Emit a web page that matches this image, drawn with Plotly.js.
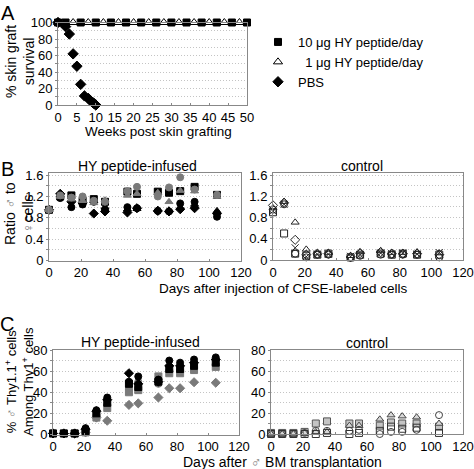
<!DOCTYPE html>
<html><head><meta charset="utf-8">
<script src="https://cdn.plot.ly/plotly-3.0.1.min.js"></script>
<style>html,body{margin:0;padding:0;background:#fff}#chart{width:474px;height:469px}</style>
</head><body><div id="chart"></div>
<script>
// ---------- Panel A: skin graft survival ----------
const weeks10ug = [0,2,6,10,14,18,22,26,30,34,38,42,46,50];
const surv10ug  = [100,100,100,100,100,100,100,100,100,100,100,100,100,100];
const weeks1ug  = [0,4,8,12,16,20,24,28,32,36,40,44,48];
const surv1ug   = [100,100,100,100,100,100,100,100,100,100,100,100,100];
const weeksPBS  = [0,2,3,4,5,6,7,8,8.6,9.2,9.6,10];
const survPBS   = [100,95,86,62,47,25,11,8,5,3,1.5,0];
const legendA   = ["10 \u03bcg HY peptide/day", "\u20071 \u03bcg HY peptide/day", "PBS"];

// ---------- Panel B: ratio male to female cells ----------
const daysB = [0,7,14,21,28,35,49,55,68,75,82,91,105];
// HY peptide-infused
const bHyBlackSq   = [0.95,1.20,1.22,1.12,1.15,1.10,1.29,1.25,1.29,1.27,1.30,1.38,1.23];
const bHyBlackCirc = [0.95,1.17,1.00,1.05,1.10,0.95,1.00,0.98,0.93,0.92,1.07,1.10,0.82];
const bHyBlackDia  = [0.95,1.25,1.10,1.08,0.88,0.92,0.90,0.98,0.93,0.92,0.96,0.98,0.88];
const bHyBlackTri  = [0.95,1.22,1.15,1.10,1.12,1.00,0.96,0.97,0.95,0.94,1.00,1.05,0.93];
const bHyGrayCirc  = [0.95,1.22,1.18,1.20,1.12,1.10,1.30,1.38,1.20,1.37,1.56,1.33,1.23];
const bHyGrayTri   = [0.95,1.20,1.15,1.12,1.08,1.13,1.22,1.25,1.27,1.10,1.31,1.30,1.20];
// control
const bCtlSq   = [0.90,0.50,0.12,0.08,0.10,0.12,0.05,0.10,0.12,0.10,0.12,0.10,0.10];
const bCtlCirc = [0.95,1.05,0.12,0.05,0.10,0.10,0.04,0.08,0.10,0.10,0.10,0.10,0.05];
const bCtlTri  = [0.98,1.10,0.71,0.20,0.13,0.14,0.08,0.15,0.17,0.14,0.14,0.15,0.13];
const bCtlDia  = [1.03,1.08,0.38,0.10,0.12,0.12,0.06,0.13,0.15,0.12,0.12,0.12,0.10];
const bCtlX    = [0.92,1.05,0.23,0.06,0.11,0.11,0.07,0.10,0.13,0.12,0.13,0.11,0.14];

// ---------- Panel C: % male Thy1.1+ among Thy1+ ----------
const daysC = [0,7,14,21,28,35,49,55,68,75,82,91,105];
// HY peptide-infused
const cHyBlackCirc = [1,1,1,6,23,35,50,55,52,70,68,71,73];
const cHyBlackDia  = [1,1,1,5,22,33,58,48,50,65,65,68,71];
const cHyBlackSq   = [1,1,1,3,20,30,48,45,50,62,62,65,68];
const cHyGrayCirc  = [1,1,1,3,17,28,44,50,48,60,60,63,66];
const cHyGraySq    = [1,1,1,2,16,25,40,42,55,58,58,61,64];
const cHyGrayDia   = [1,1,1,2,16,13,28,29.5,35,43.8,43.8,49.5,49];
// control
const cCtlGraySq = [1,1,1,2,10,12,10,10,8,11,10,10,7];
const cCtlCirc   = [0,0,0,1,3,3,3,4,0,2,2,4,18];
const cCtlTri    = [0,0,0,1,2,2,8,8,14,18,17,16,10];
const cCtlSq     = [0,0,0,0,0,1,0,1,3,7,5,6,1];

// ---------- build ----------
const W = 474, H = 469;
const px = v => v / W;
const py = v => 1 - v / H;
const BLACK = '#000', GRAY = '#7a7a7a';

function pts(x, y, ax, symbol, color, size, lineColor, name, showleg) {
  return {
    type: 'scatter', mode: 'markers', x: x, y: y,
    xaxis: 'x' + ax, yaxis: 'y' + ax,
    name: name || ' ', showlegend: !!showleg, cliponaxis: false,
    marker: {symbol: symbol, color: color, size: size,
             line: {color: lineColor || color, width: 1}},
    hoverinfo: 'skip'
  };
}

const traces = [
  pts(weeks10ug, surv10ug, '', 'square', BLACK, 7, BLACK, legendA[0], true),
  pts(weeks1ug, surv1ug, '', 'triangle-up-open', BLACK, 8, BLACK, legendA[1], true),
  pts(weeksPBS, survPBS, '', 'diamond', BLACK, 8, BLACK, legendA[2], true),

  pts(daysB, bHyBlackCirc, '2', 'circle', BLACK, 7),
  pts(daysB, bHyBlackDia, '2', 'diamond', BLACK, 7),
  pts(daysB, bHyBlackTri, '2', 'triangle-up', BLACK, 7),
  pts(daysB, bHyBlackSq, '2', 'square', BLACK, 7),
  pts(daysB, bHyGrayTri, '2', 'triangle-up', GRAY, 7),
  pts(daysB, bHyGrayCirc, '2', 'circle', GRAY, 7),

  pts(daysB, bCtlSq, '3', 'square-open', '#222', 7),
  pts(daysB, bCtlCirc, '3', 'circle-open', '#222', 7),
  pts(daysB, bCtlTri, '3', 'triangle-up-open', '#222', 7),
  pts(daysB, bCtlDia, '3', 'diamond-open', '#222', 7),
  pts(daysB, bCtlX, '3', 'x-thin-open', '#222', 7),

  pts(daysC, cHyGrayDia, '4', 'diamond', GRAY, 7),
  pts(daysC, cHyGraySq, '4', 'square', GRAY, 7),
  pts(daysC, cHyGrayCirc, '4', 'circle', GRAY, 7),
  pts(daysC, cHyBlackSq, '4', 'square', BLACK, 7),
  pts(daysC, cHyBlackDia, '4', 'diamond', BLACK, 7),
  pts(daysC, cHyBlackCirc, '4', 'circle', BLACK, 7),

  pts(daysC, cCtlGraySq, '5', 'square', '#c4c4c4', 7, '#555'),
  pts(daysC, cCtlTri, '5', 'triangle-up', '#d8d8d8', 7, '#444'),
  pts(daysC, cCtlCirc, '5', 'circle-open', '#444', 7),
  pts(daysC, cCtlSq, '5', 'square-open', '#333', 7)
];

const FONT = 'Liberation Sans, Arial, sans-serif';
const tickfont = {family: FONT, size: 13, color: '#000'};
const GRID = '#c4c4c4', GDASH = '1px,2px';
function xax(dom, range, dtick, anchor) {
  return {domain: [px(dom[0]), px(dom[1])], range: range, dtick: dtick, tick0: 0,
    anchor: anchor, showline: true, linecolor: '#888', linewidth: 1, mirror: true,
    ticks: 'inside', ticklen: 2, tickcolor: '#888', tickfont: tickfont,
    showgrid: false, zeroline: false, fixedrange: true};
}
function yax(dom, range, dtick, minor, anchor) {
  return {domain: [py(dom[1]), py(dom[0])], range: range, dtick: dtick, tick0: 0,
    anchor: anchor, showline: true, linecolor: '#888', linewidth: 1, mirror: true,
    ticks: 'outside', ticklen: 2, tickcolor: '#888', tickfont: tickfont,
    showgrid: true, gridcolor: GRID, griddash: GDASH, gridwidth: 1,
    minor: {dtick: minor, showgrid: true, gridcolor: GRID, griddash: GDASH,
            ticks: 'outside', ticklen: 2, tickcolor: '#888'},
    zeroline: false, fixedrange: true};
}

function ann(text, x, y, size, extra) {
  return Object.assign({text: text, x: px(x), y: py(y), xref: 'paper', yref: 'paper',
    xanchor: 'center', yanchor: 'middle', showarrow: false,
    font: {family: FONT, size: size, color: '#000'}}, extra || {});
}

const layout = {
  width: W, height: H, margin: {l: 0, r: 0, t: 0, b: 0},
  paper_bgcolor: '#fff', plot_bgcolor: '#fff',
  font: {family: FONT, size: 13, color: '#000'},
  xaxis:  xax([58, 247], [0, 50], 5, 'y'),
  yaxis:  yax([22.5, 105], [0, 100], 20, 10, 'x'),
  xaxis2: xax([49, 241], [0, 120], 20, 'y2'),
  yaxis2: yax([173, 260.5], [0, 1.64], 0.4, 0.2, 'x2'),
  xaxis3: xax([273, 463], [0, 120], 20, 'y3'),
  yaxis3: yax([173, 260], [0, 1.64], 0.4, 0.2, 'x3'),
  xaxis4: xax([53, 239], [0, 120], 20, 'y4'),
  yaxis4: yax([350, 434.5], [0, 80], 20, 10, 'x4'),
  xaxis5: xax([271, 463], [0, 120], 20, 'y5'),
  yaxis5: yax([350, 434], [0, 80], 20, 10, 'x5'),
  showlegend: true,
  legend: {x: px(258), y: py(27), xanchor: 'left', yanchor: 'top',
    bgcolor: 'rgba(0,0,0,0)', borderwidth: 0, itemwidth: 30, tracegroupgap: 0,
    font: {family: FONT, size: 13, color: '#000'}, itemclick: false},
  annotations: [
    ann('A', 8, 0, 20, {yanchor: 'top'}),
    ann('B', 7, 156, 20, {yanchor: 'top'}),
    ann('C', 7, 311, 20, {yanchor: 'top'}),
    ann('% skin graft<br>survival', 20, 62, 14, {textangle: -90}),
    ann('Weeks post skin grafting', 158, 131, 13.5),
    ann('HY peptide-infused', 137, 166, 14),
    ann('control', 362, 166, 14),
    ann('Ratio <span style="color:#777">\u2642</span> to<br><span style="color:#777">\u2640</span>cells', 19, 214, 14, {textangle: -90}),
    ann('Days after injection of CFSE-labeled cells', 283, 288, 13.5),
    ann('HY peptide-infused', 140, 342, 14),
    ann('control', 367, 343, 14),
    ann('% <span style="color:#777">\u2642</span> Thy1.1<sup>+</sup> cells<br>Among Thy1<sup>+</sup> cells', 19, 382, 13, {textangle: -90}),
    ann('Days after <span style="color:#777">\u2642</span> BM transplantation', 282, 462, 14)
  ]
};

Plotly.newPlot('chart', traces, layout, {staticPlot: true, displayModeBar: false});
</script>
</body></html>
